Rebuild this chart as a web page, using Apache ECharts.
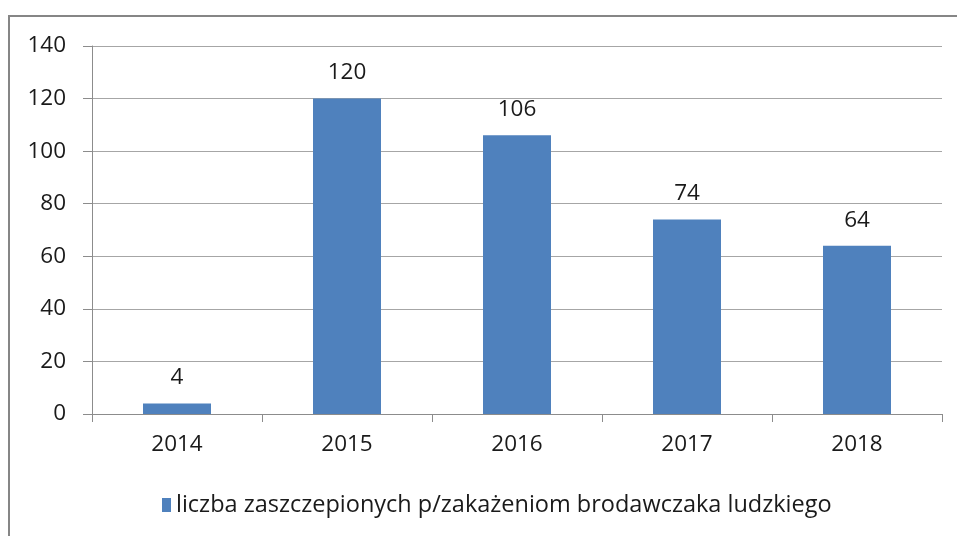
<!DOCTYPE html>
<html>
<head>
<meta charset="utf-8">
<script src="https://cdn.jsdelivr.net/npm/echarts@6/dist/echarts.min.js"></script>
<style>
  html, body { margin: 0; padding: 0; background: #fff; }
  #chart { width: 957px; height: 536px; }
</style>
</head>
<body>
<div id="chart"></div>
<script>
const years = ["2014", "2015", "2016", "2017", "2018"];
const vaccinated = [4, 120, 106, 74, 64];
const seriesName = "liczba zaszczepionych p/zakażeniom brodawczaka ludzkiego";

const font = "'Open Sans', 'Noto Sans', sans-serif";
const chart = echarts.init(document.getElementById("chart"));

chart.setOption({
  animation: false,
  textStyle: { fontFamily: font },
  graphic: [
    {
      type: "rect",
      shape: { x: 9, y: 16, width: 1000, height: 600 },
      style: { fill: "none", stroke: "#868686", lineWidth: 2 },
      silent: true,
    },
  ],
  grid: { left: 92, right: 15, top: 46, bottom: 122 },
  legend: {
    data: [seriesName],
    left: 157,
    top: 488,
    itemWidth: 9,
    itemHeight: 14,
    icon: "rect",
    textStyle: { fontSize: 23.5, color: "#1a1a1a", fontFamily: font },
  },
  xAxis: {
    type: "category",
    data: years,
    axisLine: { lineStyle: { color: "#8c8c8c" } },
    axisTick: { show: true, length: 8, alignWithLabel: false, lineStyle: { color: "#8c8c8c" } },
    axisLabel: { fontSize: 22.5, color: "#1a1a1a", margin: 19 },
  },
  yAxis: {
    type: "value",
    min: 0,
    max: 140,
    interval: 20,
    axisLine: { show: true, lineStyle: { color: "#8c8c8c" } },
    axisTick: { show: true, length: 9, inside: false, lineStyle: { color: "#8c8c8c" } },
    axisLabel: { fontSize: 22.5, color: "#1a1a1a", margin: 26 },
    splitLine: { lineStyle: { color: "#a6a6a6" } },
  },
  series: [
    {
      name: seriesName,
      type: "bar",
      data: vaccinated,
      barWidth: "40%",
      itemStyle: { color: "#4F81BD" },
      label: {
        show: true,
        position: "top",
        distance: 14,
        fontSize: 22.5,
        color: "#1a1a1a",
      },
    },
  ],
});
</script>
</body>
</html>
